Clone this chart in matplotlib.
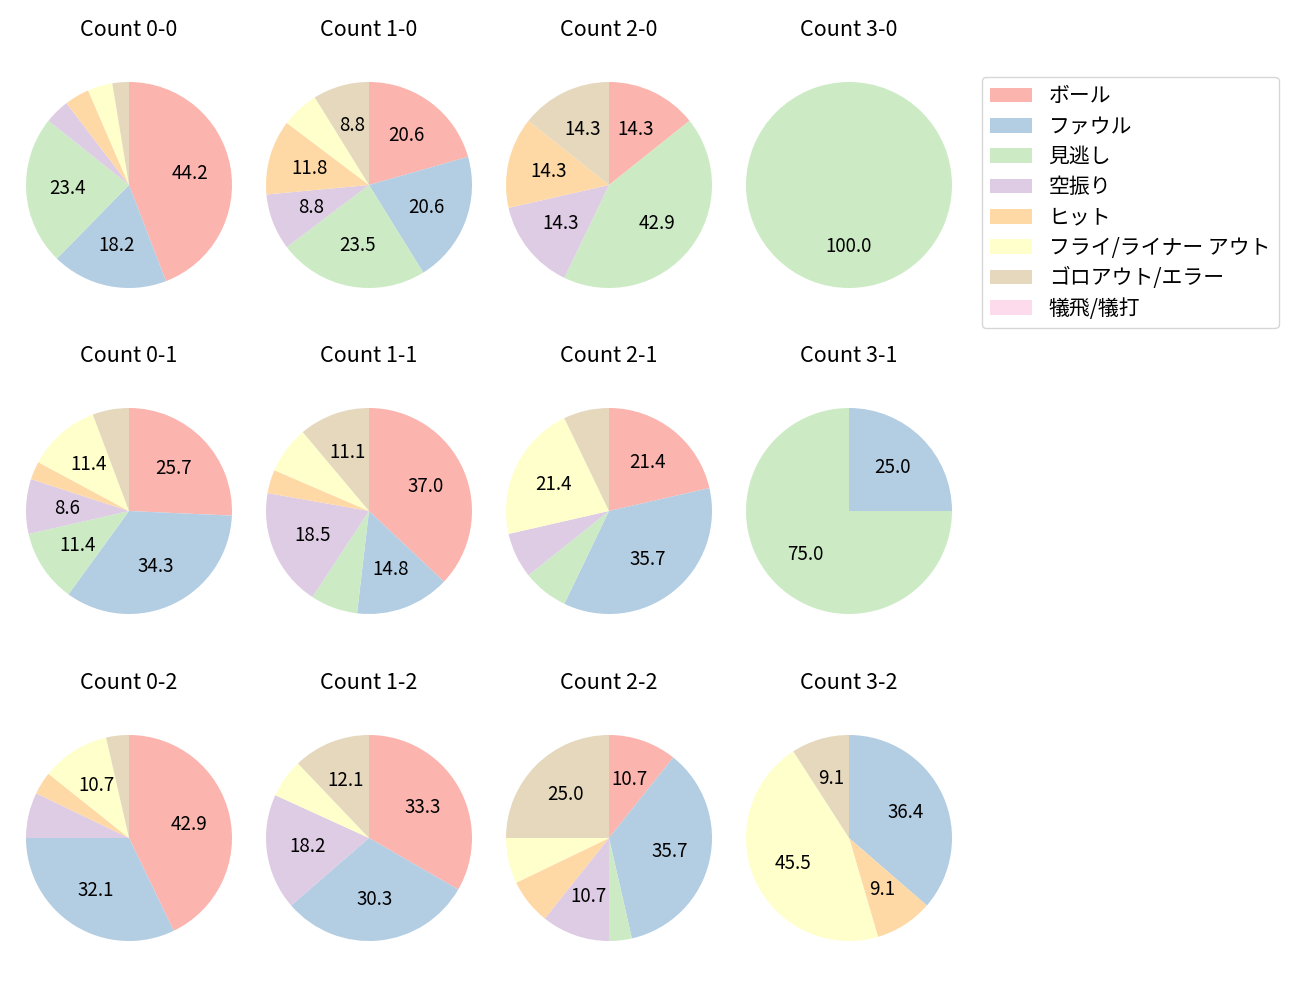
import matplotlib.pyplot as plt
from matplotlib.patches import Patch

plt.rcParams['font.family'] = ['Noto Sans CJK JP', 'DejaVu Sans']

labels = ['ボール', 'ファウル', '見逃し', '空振り', 'ヒット',
          'フライ/ライナー アウト', 'ゴロアウト/エラー', '犠飛/犠打']
colors = ['#fbb4ae', '#b3cde3', '#ccebc5', '#decbe4',
          '#fed9a6', '#ffffcc', '#e5d8bd', '#fddaec']

# counts per ball-strike count, in the order of labels
count_0_0 = [34, 14, 18, 3, 3, 3, 2, 0]
count_1_0 = [7, 7, 8, 3, 4, 2, 3, 0]
count_2_0 = [1, 0, 3, 1, 1, 0, 1, 0]
count_3_0 = [0, 0, 1, 0, 0, 0, 0, 0]
count_0_1 = [9, 12, 4, 3, 1, 4, 2, 0]
count_1_1 = [10, 4, 2, 5, 1, 2, 3, 0]
count_2_1 = [3, 5, 1, 1, 0, 3, 1, 0]
count_3_1 = [0, 1, 3, 0, 0, 0, 0, 0]
count_0_2 = [12, 9, 0, 2, 1, 3, 1, 0]
count_1_2 = [11, 10, 0, 6, 0, 2, 4, 0]
count_2_2 = [3, 10, 1, 3, 2, 2, 7, 0]
count_3_2 = [0, 4, 0, 0, 1, 5, 1, 0]

grid = [
    [('Count 0-0', count_0_0), ('Count 1-0', count_1_0), ('Count 2-0', count_2_0), ('Count 3-0', count_3_0)],
    [('Count 0-1', count_0_1), ('Count 1-1', count_1_1), ('Count 2-1', count_2_1), ('Count 3-1', count_3_1)],
    [('Count 0-2', count_0_2), ('Count 1-2', count_1_2), ('Count 2-2', count_2_2), ('Count 3-2', count_3_2)],
]

W, H = 1300, 1000
fig = plt.figure(figsize=(13, 10), dpi=100)

cx = [129, 369, 609, 849]
cy = [185, 511, 838]
half = 120
r = 103

for i, row in enumerate(grid):
    for j, (title, vals) in enumerate(row):
        ax = fig.add_axes([(cx[j] - half) / W, 1 - (cy[i] + half) / H, 2 * half / W, 2 * half / H])
        ax.pie(vals, colors=colors, startangle=90, counterclock=False,
               autopct=lambda p: f'{p:.1f}' if p >= 8 else '',
               textprops={'fontsize': 13.5})
        lim = half / r
        ax.set_xlim(-lim, lim)
        ax.set_ylim(-lim, lim)
        ax.set_title(title, fontsize=15.5, pad=21)

handles = [Patch(facecolor=c, label=l) for c, l in zip(colors, labels)]
fig.legend(handles=handles, loc='upper left', bbox_to_anchor=(982 / W, 1 - 77 / H),
           borderaxespad=0, fontsize=15, labelspacing=0.4)

fig.savefig('out.png')
